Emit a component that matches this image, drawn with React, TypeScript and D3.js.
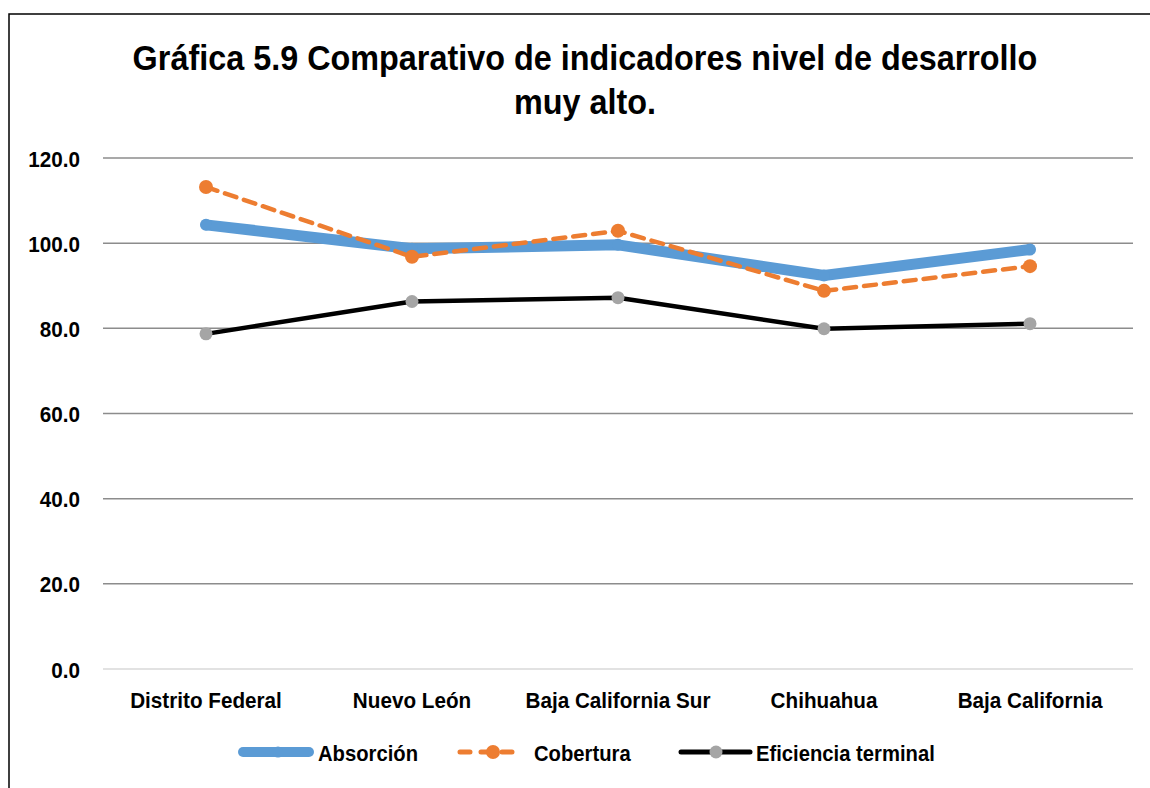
import React from "react";
import * as d3 from "d3";

const categories = ["Distrito Federal", "Nuevo León", "Baja California Sur", "Chihuahua", "Baja California"];
const absorcion = [104.3, 98.7, 99.6, 92.4, 98.5];
const cobertura = [113.2, 96.8, 102.9, 88.8, 94.6];
const eficiencia = [78.7, 86.3, 87.2, 79.9, 81.1];
const yTicks = [0, 20, 40, 60, 80, 100, 120];

const FONT = "'Liberation Sans Narrow', 'Liberation Sans', Arial, sans-serif";

function T(props: { x: number; y: number; size: number; sx?: number; anchor?: string; children: React.ReactNode }) {
  const { x, y, size, sx = 0.92, anchor = "start", children } = props;
  return (
    <text transform={`translate(${x},${y}) scale(${sx},1)`} textAnchor={anchor} fontSize={size} fontWeight="bold" fill="#000">
      {children}
    </text>
  );
}

export default function App() {
  const W = 1150, H = 788;
  const x = d3.scaleBand().domain(categories).range([103, 1133]);
  const y = d3.scaleLinear().domain([0, 120]).range([669, 158]);
  const cx = (c: string) => (x(c) as number) + x.bandwidth() / 2;
  const line = d3.line<number>().x((_, i) => cx(categories[i])).y((v) => y(v));

  const series = [
    { name: "Absorción", data: absorcion, color: "#5b9bd5", width: 11, dash: "", marker: "#5b9bd5", r: 6 },
    { name: "Cobertura", data: cobertura, color: "#ed7d31", width: 4.5, dash: "12,8", marker: "#ed7d31", r: 7 },
    { name: "Eficiencia terminal", data: eficiencia, color: "#000000", width: 4.5, dash: "", marker: "#a5a5a5", r: 6.5 },
  ];
  const legend = [
    { x1: 243, x2: 309, m: 278, tx: 318, w: 10, r: 5.5, dash: "" },
    { x1: 460, x2: 516, m: 493, tx: 534, w: 5, r: 7, dash: "10,11" },
    { x1: 681, x2: 750, m: 716, tx: 756, w: 5, r: 6.5, dash: "" },
  ];

  return (
    <svg width={W} height={H} style={{ position: "absolute", left: 0, top: 0 }} fontFamily={FONT}>
      <rect x={0} y={0} width={W} height={H} fill="#fff" />
      <rect x={9} y={14} width={1160} height={800} fill="#fff" stroke="#000" strokeWidth={1.5} />
      <T x={585} y={70} size={35} sx={0.925} anchor="middle">Gráfica 5.9 Comparativo de indicadores nivel de desarrollo</T>
      <T x={585} y={114} size={35} sx={0.925} anchor="middle">muy alto.</T>
      {yTicks.map((t) => (
        <g key={t}>
          <line x1={103} x2={1133} y1={y(t)} y2={y(t)} stroke={t === 0 ? "#d9d9d9" : "#8c8c8c"} strokeWidth={1.5} />
          <T x={80} y={y(t) + 8.5} size={22} sx={0.94} anchor="end">{t.toFixed(1)}</T>
        </g>
      ))}
      {categories.map((c) => (
        <T key={c} x={cx(c)} y={708} size={22} sx={0.94} anchor="middle">{c}</T>
      ))}
      {series.map((s) => (
        <g key={s.name}>
          <path d={line(s.data) || ""} fill="none" stroke={s.color} strokeWidth={s.width} strokeDasharray={s.dash || undefined} strokeLinejoin="round" strokeLinecap="round" />
          {s.data.map((v, i) => (
            <circle key={i} cx={cx(categories[i])} cy={y(v)} r={s.r} fill={s.marker} />
          ))}
        </g>
      ))}
      {series.map((s, i) => {
        const L = legend[i];
        return (
          <g key={s.name}>
            <line x1={L.x1} x2={L.x2} y1={752} y2={752} stroke={s.color} strokeWidth={L.w} strokeDasharray={L.dash || undefined} strokeLinecap="round" />
            <circle cx={L.m} cy={752} r={L.r} fill={s.marker} />
            <T x={L.tx} y={761} size={22} sx={0.92}>{s.name}</T>
          </g>
        );
      })}
    </svg>
  );
}
